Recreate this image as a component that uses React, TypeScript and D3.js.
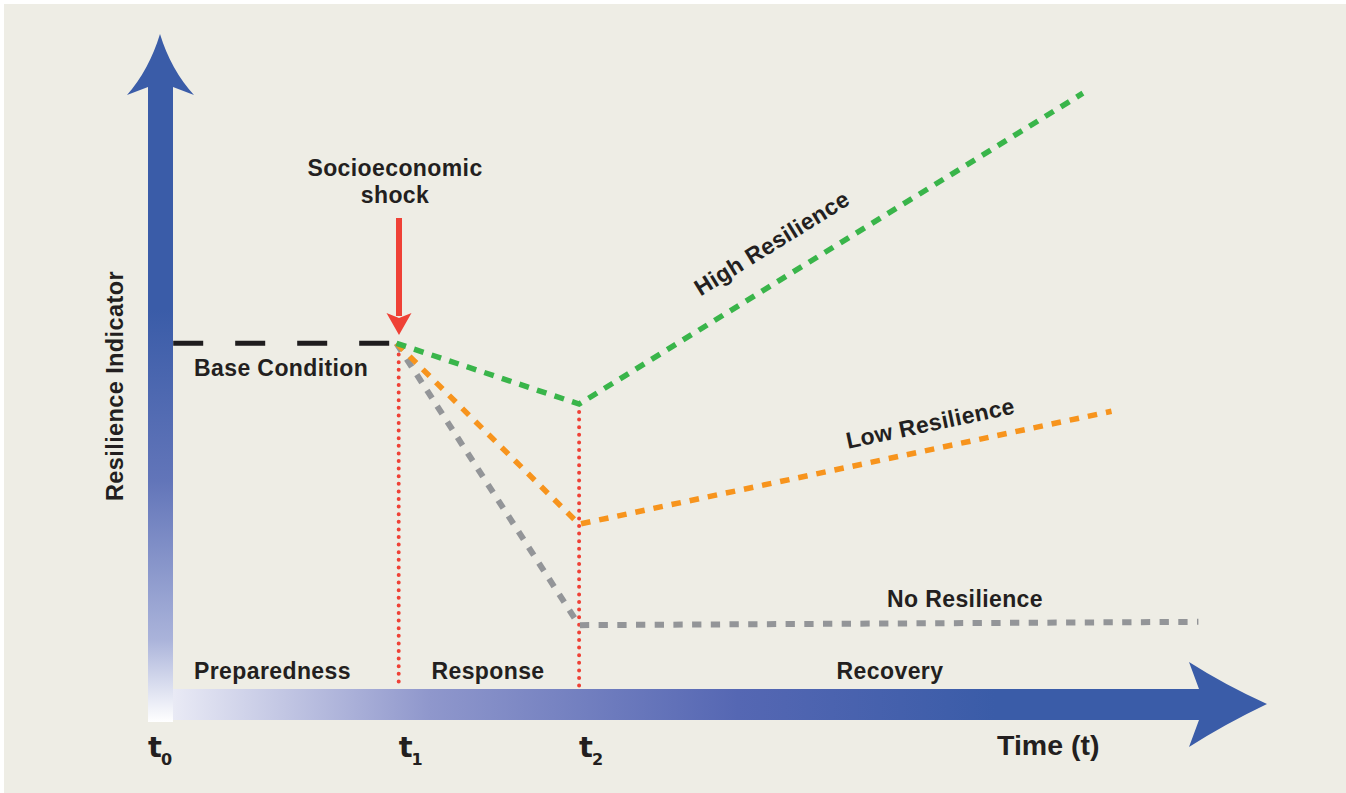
import React from "react";
import * as d3 from "d3";

// ---- data (arbitrary units: time 0..100, indicator 0..100) ----
const phaseTimes = [0, 21.7, 38.1]; // t0, t1, t2
const phaseTickLabels = ["0", "1", "2"];
const phaseNames = ["Preparedness", "Response", "Recovery"];
const baseLine = [
  { t: 1.2, v: 54.8 },
  { t: 21.7, v: 54.8 },
];
const highResilience = [
  { t: 21.5, v: 54.8 },
  { t: 38.1, v: 45.6 },
  { t: 83.9, v: 92.7 },
];
const lowResilience = [
  { t: 21.5, v: 54.8 },
  { t: 38.1, v: 27.4 },
  { t: 86.5, v: 44.5 },
];
const noResilience = [
  { t: 21.5, v: 54.8 },
  { t: 38.1, v: 12.1 },
  { t: 94.4, v: 12.6 },
];

const W = 1346;
const H = 793;
const BG = "#EEEDE5";
const BLUE = "#3A5CA8";
const RED = "#EF4136";
const TEXT = "#231F20";
const FONT = "'Liberation Sans', Arial, sans-serif";

const x = d3.scaleLinear().domain([0, 100]).range([160, 1260]);
const y = d3.scaleLinear().domain([0, 100]).range([705, 45]);

const line = d3
  .line<{ t: number; v: number }>()
  .x((d) => x(d.t))
  .y((d) => y(d.v));

const labelStyle: React.CSSProperties = {
  fontFamily: FONT,
  fontWeight: 700,
  fontSize: 23,
  letterSpacing: 0.4,
  fill: TEXT,
};

export default function App() {
  return (
    <svg
      width={W}
      height={H}
      viewBox={`0 0 ${W} ${H}`}
      style={{ position: "absolute", left: 0, top: 0, display: "block", background: "#fff" }}
    >
      <defs>
        <linearGradient id="vgrad" x1="0" y1="722" x2="0" y2="34" gradientUnits="userSpaceOnUse">
          <stop offset="0" stopColor="#ffffff" />
          <stop offset="0.12" stopColor="#aab3da" />
          <stop offset="0.35" stopColor="#6275b9" />
          <stop offset="0.6" stopColor={BLUE} />
        </linearGradient>
        <linearGradient id="hgrad" x1="173" y1="0" x2="1200" y2="0" gradientUnits="userSpaceOnUse">
          <stop offset="0" stopColor="#e9eaf5" />
          <stop offset="0.25" stopColor="#8f97cc" />
          <stop offset="0.55" stopColor="#5567b3" />
          <stop offset="0.8" stopColor={BLUE} />
        </linearGradient>
      </defs>
      <rect x={4} y={4} width={W - 4} height={H - 4} fill={BG} />

      {/* vertical axis arrow */}
      <rect x={148} y={86} width={25} height={722 - 86} fill="url(#vgrad)" />
      <path d="M160,34 Q171,70 194,95 L173,87 L148,87 L127,95 Q149,70 160,34 Z" fill={BLUE} />

      {/* horizontal axis arrow */}
      <rect x={173} y={689} width={1200 - 173} height={31} fill="url(#hgrad)" />
      <path d="M1267,704 Q1225,724 1189,747 L1199,720 L1199,689 L1189,662 Q1225,685 1267,704 Z" fill={BLUE} />

      {/* phase boundaries */}
      <line x1={x(phaseTimes[1])} x2={x(phaseTimes[1])} y1={347} y2={686} stroke={RED} strokeWidth={4} strokeLinecap="round" strokeDasharray="0 7.6" />
      <line x1={x(phaseTimes[2])} x2={x(phaseTimes[2])} y1={412} y2={688} stroke={RED} strokeWidth={4} strokeLinecap="round" strokeDasharray="0 7.6" />

      {/* base condition */}
      <path d={line(baseLine) || ""} fill="none" stroke="#1f1d1e" strokeWidth={5} strokeDasharray="30 32" />

      {/* scenario lines */}
      <path d={line(noResilience) || ""} fill="none" stroke="#939598" strokeWidth={6} strokeDasharray="9.3 9.4" />
      <path d={line(lowResilience) || ""} fill="none" stroke="#F7941D" strokeWidth={5.5} strokeDasharray="9.5 9" />
      <path d={line(highResilience) || ""} fill="none" stroke="#39B54A" strokeWidth={5.5} strokeDasharray="10 8.5" />

      {/* shock arrow */}
      <rect x={396} y={218} width={6} height={98} fill={RED} />
      <path d="M399,335 L386.5,313 L399,318 L411.5,313 Z" fill={RED} />

      {/* texts */}
      <text x={395} y={176} textAnchor="middle" style={labelStyle}>Socioeconomic</text>
      <text x={395} y={203} textAnchor="middle" style={labelStyle}>shock</text>
      <text x={194} y={376} style={labelStyle}>Base Condition</text>

      <text x={194} y={679} style={labelStyle}>{phaseNames[0]}</text>
      <text x={488} y={679} textAnchor="middle" style={labelStyle}>{phaseNames[1]}</text>
      <text x={890} y={679} textAnchor="middle" style={labelStyle}>{phaseNames[2]}</text>

      <text transform="translate(776,250) rotate(-31.7)" textAnchor="middle" style={labelStyle}>High Resilience</text>
      <text transform="translate(932,431) rotate(-12)" textAnchor="middle" style={labelStyle}>Low Resilience</text>
      <text x={965} y={607} textAnchor="middle" style={labelStyle}>No Resilience</text>

      <text transform="translate(123,386) rotate(-90)" textAnchor="middle" style={{ ...labelStyle, fontSize: 23.5, letterSpacing: 0.4 }}>
        Resilience Indicator
      </text>

      {phaseTimes.map((t, i) => (
        <text
          key={i}
          x={i === 0 ? x(t) - 12 : x(t)}
          y={757}
          style={{ fontFamily: "'DejaVu Sans', sans-serif", fontWeight: 700, fontSize: 29, fill: TEXT }}
        >
          t
          <tspan dx={-1} dy={8} style={{ fontSize: 16 }}>{phaseTickLabels[i]}</tspan>
        </text>
      ))}

      <text x={997} y={755} style={{ fontFamily: FONT, fontWeight: 700, fontSize: 28.5, fill: TEXT }}>Time (t)</text>
    </svg>
  );
}
